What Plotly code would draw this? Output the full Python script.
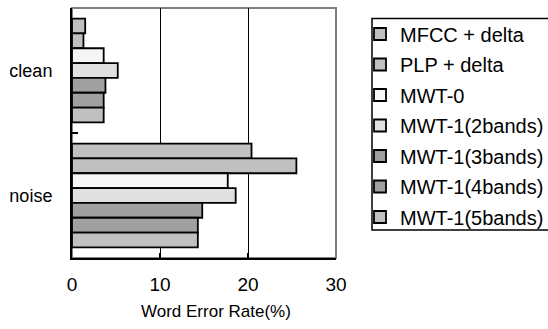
import plotly.graph_objects as go

categories = ["clean", "noise"]
series_names = ["MFCC + delta", "PLP + delta", "MWT-0", "MWT-1(2bands)",
                "MWT-1(3bands)", "MWT-1(4bands)", "MWT-1(5bands)"]
series_values = [
    [1.5, 20.4],
    [1.3, 25.5],
    [3.6, 17.7],
    [5.2, 18.6],
    [3.8, 14.8],
    [3.6, 14.3],
    [3.6, 14.3],
]
series_colors = ["#c0c0c0", "#c0c0c0", "#f6f6f6", "#e0e0e0",
                 "#a0a0a0", "#a0a0a0", "#c0c0c0"]
x_ticks = [0, 10, 20, 30]

FONT = "Liberation Sans, Arial, sans-serif"

fig = go.Figure()
for name, vals, col in zip(series_names, series_values, series_colors):
    fig.add_trace(go.Bar(
        y=categories, x=vals, name=name, orientation="h",
        legendgroup=name,
        marker=dict(color=col, line=dict(color="black", width=1.8)),
    ))

W, H = 548, 329
ml, mr, mt, mb = 72, 212, 8, 71
PW, PH = W - ml - mr, H - mt - mb


def px_x(p):
    return (p - ml) / PW


def px_y(p):
    return 1 - (p - mt) / PH


fig.update_layout(
    width=W, height=H,
    margin=dict(l=ml, r=mr, t=mt, b=mb, pad=0, autoexpand=False),
    paper_bgcolor="white", plot_bgcolor="white",
    barmode="group", bargap=0.17, bargroupgap=0,
    font=dict(family=FONT, size=18, color="black"),
    showlegend=True,
    legend=dict(
        x=px_x(360), y=px_y(14.5),
        xanchor="left", yanchor="top",
        borderwidth=0,
        font=dict(family=FONT, size=20, color="black"),
        tracegroupgap=1.5, traceorder="grouped",
        bgcolor="rgba(0,0,0,0)",
    ),
    xaxis=dict(
        range=[0, 30], tickvals=x_ticks, ticktext=[str(v) for v in x_ticks],
        showgrid=True, gridcolor="black", gridwidth=1,
        showline=True, linecolor="black", linewidth=2,
        ticks="inside", ticklen=5, tickcolor="black", tickwidth=1.5,
        ticklabelstandoff=8, zeroline=False,
        tickfont=dict(size=19),
    ),
    yaxis=dict(
        autorange="reversed", type="category",
        showline=True, linecolor="black", linewidth=2,
        ticks="inside", ticklen=6, tickcolor="black", tickwidth=1.5,
        tickson="boundaries", ticklabelstandoff=14,
        showgrid=False, tickfont=dict(size=18),
    ),
    shapes=[
        dict(type="rect", xref="paper", yref="paper", x0=0, x1=1, y0=0, y1=1,
             line=dict(color="#808080", width=2), layer="below"),
        dict(type="rect", xref="paper", yref="paper",
             x0=px_x(372), x1=px_x(560), y0=px_y(18.5), y1=px_y(230),
             line=dict(color="black", width=1.5), fillcolor="rgba(0,0,0,0)",
             layer="below"),
    ],
    annotations=[dict(text="Word Error Rate(%)", xref="paper", yref="paper",
                      x=px_x(215.5), y=px_y(311),
                      xanchor="center", yanchor="middle", showarrow=False,
                      font=dict(family=FONT, size=17))],
)
fig.write_html("out.html")
